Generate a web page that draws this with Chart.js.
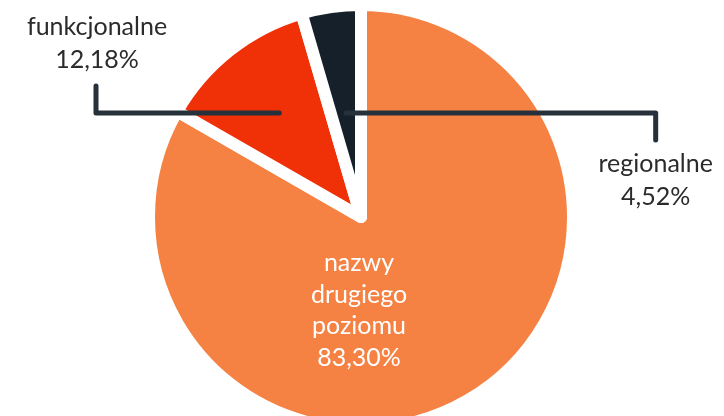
<!DOCTYPE html>
<html lang="pl">
<head>
<meta charset="utf-8">
<script src="https://cdn.jsdelivr.net/npm/chart.js@4"></script>
<style>
  html, body { margin: 0; padding: 0; background: #fff; overflow: hidden; }
  #wrap { width: 724px; height: 416px; }
</style>
</head>
<body>
<div id="wrap"><canvas id="domainChart" width="724" height="416"></canvas></div>
<script>
const labels = [["nazwy", "drugiego", "poziomu"], ["funkcjonalne"], ["regionalne"]];
const shares = [83.30, 12.18, 4.52];
const colors = ["#f58142", "#f03108", "#15202b"];

const ink = "#2b2b2b";
const leader = "#26313b";
const fontFamily = "Lato, 'Open Sans', sans-serif";

const fmt = (v) => v.toFixed(2).replace(".", ",") + "%";

// labels + leader lines
const labelPlugin = {
  id: "sliceLabels",
  afterDatasetsDraw(chart) {
    const ctx = chart.ctx;
    const arcs = chart.getDatasetMeta(0).data;
    const cx = arcs[0].x, cy = arcs[0].y, r = arcs[0].outerRadius;
    ctx.save();
    ctx.font = "25px " + fontFamily;
    ctx.textAlign = "center";
    ctx.textBaseline = "middle";

    // big slice: text inside, white
    const big = [...labels[0], fmt(shares[0])];
    ctx.fillStyle = "#ffffff";
    big.forEach((t, i) => ctx.fillText(t, cx - 2, cy + 46 + i * 31.5));

    // small slices: leader lines out to the sides
    const lineY = cy - 0.49 * r;
    const pointOnMid = (arc) => {
      const mid = (arc.startAngle + arc.endAngle) / 2;
      const dy = lineY - cy;
      return cx + dy / Math.tan(mid);
    };
    ctx.strokeStyle = leader;
    ctx.lineWidth = 5;
    ctx.lineCap = "round";
    ctx.lineJoin = "round";

    // funkcjonalne (left)
    const redX = pointOnMid(arcs[1]);
    const leftX = cx - 1.25 * r;
    ctx.beginPath();
    ctx.moveTo(redX, lineY);
    ctx.lineTo(leftX, lineY);
    ctx.lineTo(leftX, lineY - 27);
    ctx.stroke();

    // regionalne (right)
    const darkX = pointOnMid(arcs[2]);
    const rightX = cx + 1.39 * r;
    ctx.beginPath();
    ctx.moveTo(darkX, lineY);
    ctx.lineTo(rightX, lineY);
    ctx.lineTo(rightX, lineY + 27);
    ctx.stroke();

    ctx.fillStyle = ink;
    ctx.fillText(labels[1][0], leftX + 1, lineY - 86);
    ctx.fillText(fmt(shares[1]), leftX + 1, lineY - 53);
    ctx.fillText(labels[2][0], rightX, lineY + 51);
    ctx.fillText(fmt(shares[2]), rightX, lineY + 84);
    ctx.restore();
  },
};

new Chart(document.getElementById("domainChart").getContext("2d"), {
  type: "pie",
  data: {
    labels: labels.map((l) => l.join(" ")),
    datasets: [{
      data: shares,
      backgroundColor: colors,
      borderColor: "#ffffff",
      borderWidth: 12,
      borderJoinStyle: "round",
    }],
  },
  options: {
    responsive: false,
    animation: false,
    radius: 212,
    layout: { padding: { left: 0, right: 2, top: 18, bottom: 0 } },
    plugins: { legend: { display: false }, tooltip: { enabled: false } },
  },
  plugins: [labelPlugin],
});
</script>
</body>
</html>
